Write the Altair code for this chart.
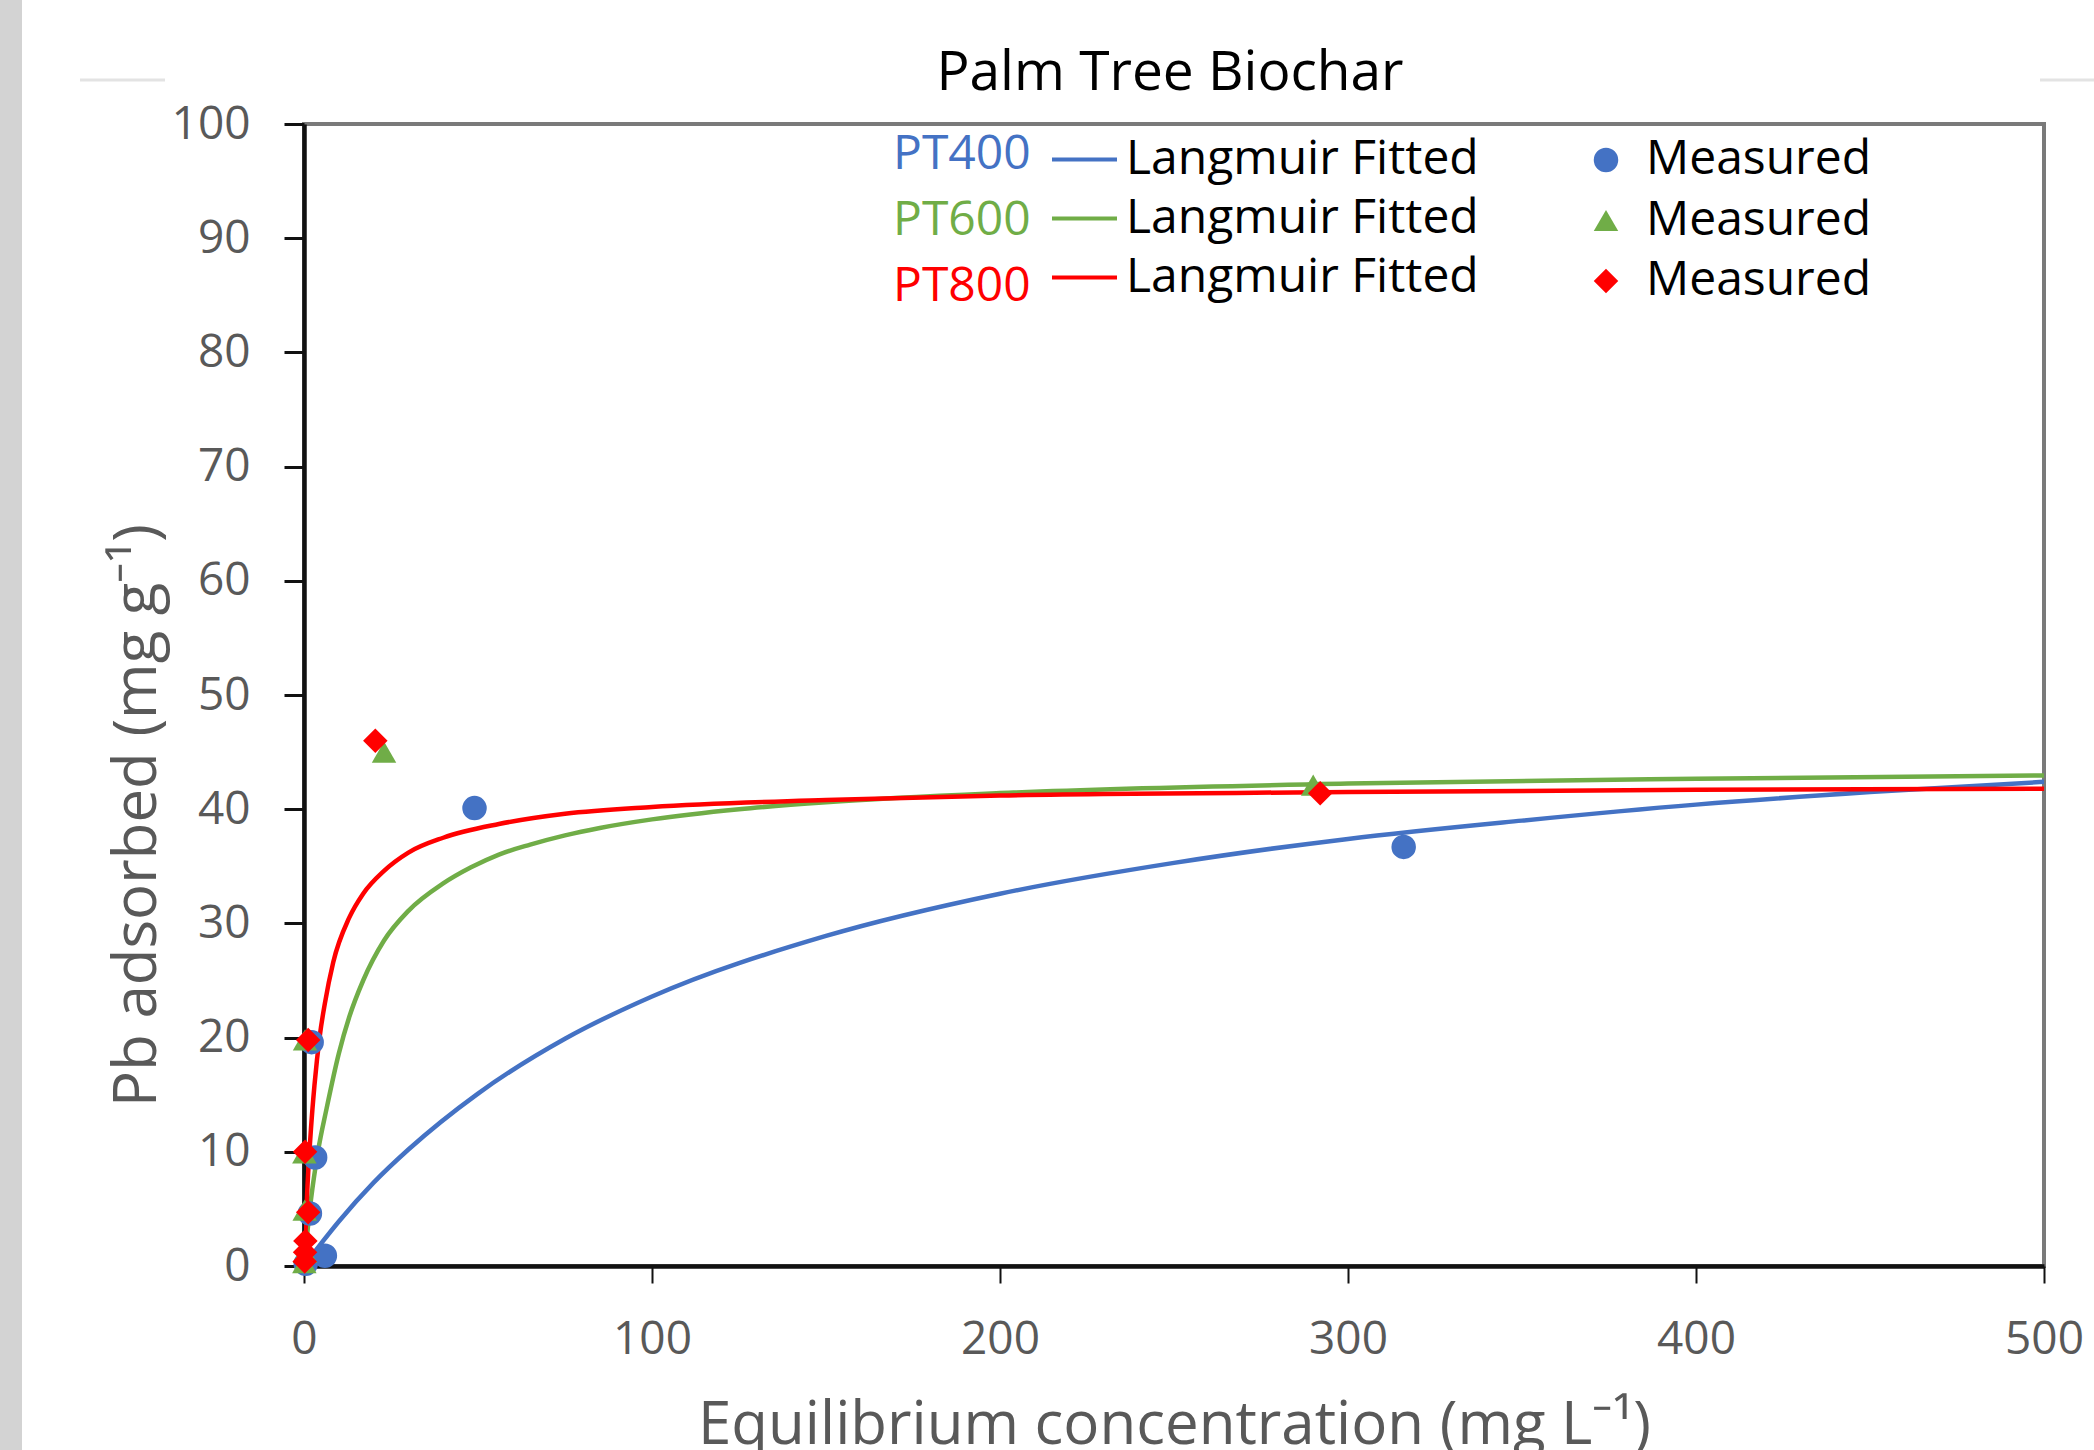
import altair as alt
import pandas as pd

# ---------------- data ----------------
title_text = "Palm Tree Biochar"
x_title = "Equilibrium concentration (mg L\u207b\u00b9)"
y_title = "Pb adsorbed (mg g\u207b\u00b9)"

series_names = ["PT400", "PT600", "PT800"]
series_colors = ["#4472C4", "#70AD47", "#FF0000"]
series_shapes = ["circle", "triangle-up", "diamond"]
fit_label = "Langmuir Fitted"
meas_label = "Measured"

x_ticks = [0, 100, 200, 300, 400, 500]
y_ticks = [0, 10, 20, 30, 40, 50, 60, 70, 80, 90, 100]

# Langmuir fitted curves
fit400_c = [0, 5, 10, 20, 30, 50, 75, 100, 150, 200, 250, 300, 350, 400, 450, 500]
fit400_q = [0, 2.0, 3.9, 7.3, 10.2, 15.1, 19.9, 23.6, 28.9, 32.6, 35.3, 37.4, 39.0, 40.4, 41.5, 42.4]
fit600_c = [0, 2, 4, 6.5, 10, 13, 17, 23, 30, 40, 48, 56, 65, 75, 85, 100, 125, 150, 200, 300, 400, 500]
fit600_q = [0, 5.8, 10.0, 13.8, 18.6, 21.8, 25.0, 28.5, 31.1, 33.5, 34.91, 36.03, 36.90, 37.71, 38.36, 39.11, 40.0, 40.61, 41.41, 42.24, 42.67, 42.95]
fit800_c = [0, 1, 2, 3, 4.6, 6, 8.4, 13, 17, 23, 30, 40, 56, 75, 100, 150, 200, 300, 400, 500]
fit800_q = [0, 7.0, 12.0, 15.8, 20.3, 23.0, 26.6, 30.5, 32.6, 34.6, 36.2, 37.5, 38.7, 39.6, 40.2, 40.8, 41.2, 41.5, 41.7, 41.8]

# Measured points
meas400_c = [0.5, 6.0, 1.7, 3.2, 2.2, 49, 316]
meas400_q = [0.2, 0.9, 4.6, 9.5, 19.6, 40.1, 36.7]
meas600_c = [0.1, 0.3, 0.2, 0.1, 0.3, 23, 290]
meas600_q = [0.3, 1.2, 4.9, 9.9, 19.8, 45.0, 42.1]
meas800_c = [0.2, 0.3, 0.4, 1.2, 0.3, 1.2, 20.5, 292]
meas800_q = [0.4, 1.2, 2.2, 4.7, 10.0, 19.8, 46.0, 41.4]

# ---------------- tables ----------------
fit_df = pd.concat([
    pd.DataFrame({"c": fit400_c, "q": fit400_q, "fit_series": series_names[0]}),
    pd.DataFrame({"c": fit600_c, "q": fit600_q, "fit_series": series_names[1]}),
    pd.DataFrame({"c": fit800_c, "q": fit800_q, "fit_series": series_names[2]}),
], ignore_index=True)

meas_df = pd.concat([
    pd.DataFrame({"c": meas400_c, "q": meas400_q, "series": series_names[0]}),
    pd.DataFrame({"c": meas600_c, "q": meas600_q, "series": series_names[1]}),
    pd.DataFrame({"c": meas800_c, "q": meas800_q, "series": series_names[2]}),
], ignore_index=True)
meas_df["order"] = range(len(meas_df))

label_df = pd.DataFrame({"label_series": series_names})
title_df = pd.DataFrame({"t": [title_text]})
deco_df = pd.DataFrame({"k": [0]})

FONT = "Open Sans"
GRAY_TXT = "#595959"

x_enc = alt.X(
    "c:Q",
    scale=alt.Scale(domain=[0, 500], nice=False, zero=False),
    axis=alt.Axis(
        values=x_ticks, title=x_title, grid=False,
        tickSize=17, tickWidth=2, tickColor="#111111",
        domainColor="#111111", domainWidth=4.5,
        labelFont=FONT, labelFontSize=46, labelColor=GRAY_TXT, labelPadding=34,
        labelFlush=False,
        titleFont=FONT, titleFontSize=60, titleColor=GRAY_TXT, titleFontWeight="normal",
        titleX=870, titleY=177, titleBaseline="alphabetic", titleAlign="center",
    ),
)
y_enc = alt.Y(
    "q:Q",
    scale=alt.Scale(domain=[0, 100], nice=False, zero=False),
    axis=alt.Axis(
        values=y_ticks, title=y_title, grid=False,
        tickSize=20, tickWidth=3, tickColor="#111111",
        domainColor="#111111", domainWidth=4.5,
        labelFont=FONT, labelFontSize=46, labelColor=GRAY_TXT, labelPadding=34,
        labelFlush=False,
        titleFont=FONT, titleFontSize=60, titleColor=GRAY_TXT, titleFontWeight="normal",
        titleX=-149, titleY=691, titleAngle=270, titleBaseline="alphabetic",
        titleAlign="center",
    ),
)

lines = alt.Chart(fit_df).mark_line(strokeWidth=4.5, interpolate="monotone", clip=True).encode(
    x=x_enc,
    y=y_enc,
    stroke=alt.Stroke(
        "fit_series:N",
        scale=alt.Scale(domain=series_names, range=series_colors),
        legend=alt.Legend(
            orient="none", legendX=746, legendY=1, title=None, padding=0,
            symbolType="stroke", symbolSize=4225, symbolStrokeWidth=4,
            labelExpr="'" + fit_label + "'", labelLimit=0,
            labelFont=FONT, labelFontSize=48, labelColor="black",
            labelOffset=7, rowPadding=-3,
        ),
    ),
)

color_expr = " : ".join(
    f"datum.value == '{n}' ? '{c}'" for n, c in zip(series_names[:-1], series_colors[:-1])
) + f" : '{series_colors[-1]}'"

labels_layer = alt.Chart(label_df).mark_point(opacity=0, size=1).encode(
    color=alt.Color(
        "label_series:N",
        scale=alt.Scale(domain=series_names, range=series_colors),
        legend=alt.Legend(
            orient="none", legendX=541, legendY=7, title=None, padding=0,
            symbolSize=1, symbolOpacity=0, symbolStrokeWidth=0,
            labelFont=FONT, labelFontSize=48, labelLimit=0,
            labelColor={"expr": color_expr},
            labelOffset=0, rowPadding=18,
        ),
    ),
)

meas_legend = dict(
    orient="none", legendX=1278, legendY=12, title=None, padding=0,
    symbolSize=600, symbolStrokeWidth=0,
    labelExpr="'" + meas_label + "'", labelLimit=0,
    labelFont=FONT, labelFontSize=48, labelColor="black",
    labelOffset=16, rowPadding=12.5,
)

points = alt.Chart(meas_df).mark_point(filled=True, size=600, opacity=1, strokeWidth=0).encode(
    x=alt.X("c:Q"),
    y=alt.Y("q:Q"),
    fill=alt.Fill(
        "series:N",
        scale=alt.Scale(domain=series_names, range=series_colors),
        legend=alt.Legend(**meas_legend),
    ),
    shape=alt.Shape(
        "series:N",
        scale=alt.Scale(domain=series_names, range=series_shapes),
        legend=alt.Legend(**meas_legend),
    ),
    order=alt.Order("order:Q"),
)

title_mark = alt.Chart(title_df).mark_text(
    font=FONT, fontSize=55, color="black", align="center", baseline="alphabetic"
).encode(text="t:N", x=alt.value(866), y=alt.value(-34))

strip = alt.Chart(deco_df).mark_rect(color="#d3d3d3").encode(
    x=alt.value(-304), x2=alt.value(-282), y=alt.value(-124), y2=alt.value(1326)
)
faint1 = alt.Chart(deco_df).mark_rule(color="#e3e3e3", strokeWidth=3).encode(
    x=alt.value(-224), x2=alt.value(-139), y=alt.value(-44)
)
faint2 = alt.Chart(deco_df).mark_rule(color="#e3e3e3", strokeWidth=3).encode(
    x=alt.value(1736), x2=alt.value(1790), y=alt.value(-44)
)

chart = alt.layer(
    strip, faint1, faint2, lines, labels_layer, points, title_mark
).resolve_scale(
    stroke="independent", fill="independent", shape="independent", color="independent"
).resolve_legend(
    stroke="independent", fill="independent", shape="independent", color="independent"
).properties(
    width=1740, height=1142,
    autosize=alt.AutoSizeParams(type="none"),
    padding={"left": 304, "top": 124, "right": 50, "bottom": 184},
    background="white",
).configure_view(
    stroke="#7a7a7a", strokeWidth=4
)

chart.save("out.html", embed_options={"renderer": "svg", "actions": False})
